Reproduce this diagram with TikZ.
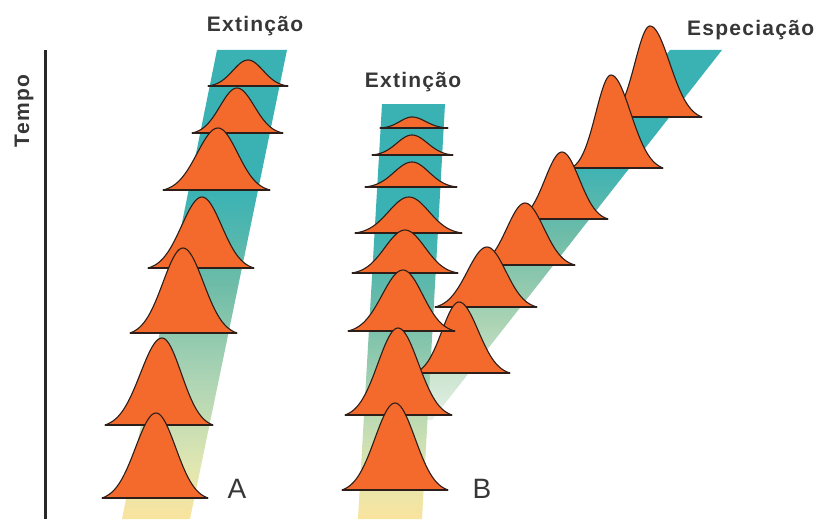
\documentclass[tikz,border=0pt]{standalone}
\usepackage{fontspec}
\setmainfont{Liberation Sans}
\newfontfamily\labelfont[LetterSpace=6]{Liberation Sans}
\usepackage{tikz}

\definecolor{bandteal}{RGB}{58,178,180}
\definecolor{bandmid}{RGB}{110,188,168}
\definecolor{bandgreen}{RGB}{172,212,180}
\definecolor{bandpale}{RGB}{222,230,178}
\definecolor{bandyellow}{RGB}{250,228,158}
\definecolor{bellorange}{RGB}{243,106,44}
\definecolor{bellline}{RGB}{45,30,25}
\definecolor{axisgray}{RGB}{40,40,40}
\definecolor{txtgray}{RGB}{55,55,55}

\pgfdeclareverticalshading{colshade}{100bp}{color(0bp)=(bandyellow); color(25bp)=(bandyellow);
  color(31bp)=(bandpale); color(40bp)=(bandgreen); color(50bp)=(bandmid); color(60bp)=(bandteal);
  color(100bp)=(bandteal)}
\pgfdeclareverticalshading{specshade}{100bp}{color(0bp)=(white!70!bandgreen); color(25bp)=(white!70!bandgreen);
  color(38bp)=(bandgreen); color(50bp)=(bandmid); color(60bp)=(bandteal); color(100bp)=(bandteal)}

\begin{document}
\begin{tikzpicture}[
    x=1pt, y=1pt,
    band/.style={shading=colshade},
    specband/.style={shading=specshade},
    bellbody/.style={fill=bellorange, draw=bellline, line width=1.1pt, line join=round},
    bellbase/.style={draw=bellline, line width=1.8pt},
    title/.style={font=\labelfont\bfseries\fontsize{21}{21}\selectfont, text=txtgray, inner sep=0pt},
    letter/.style={font=\fontsize{28}{28}\selectfont, text=txtgray, inner sep=0pt},
    pics/bell/.style n args={3}{code={
        \path[bellbody] plot[domain=-1:0, samples=30] ({#1*\x},{#3*(exp(-3.5*\x*\x)-0.0302)/0.9698})
            -- plot[domain=0:1, samples=30] ({#2*\x},{#3*(exp(-3.5*\x*\x)-0.0302)/0.9698}) -- cycle;
        \draw[bellbase] (-#1,0) -- (#2,0);
    }}
]
    \fill[white] (0,0) rectangle (829,-519);
    \useasboundingbox (0,0) rectangle (829,-519);

    \shade[specband] (670,-50) -- (722,-50) -- (432,-420) -- (380,-420) -- cycle;
    \shade[band] (217,-50) -- (287,-50) -- (190,-519) -- (122,-519) -- cycle;
    \shade[band] (382,-104) -- (445,-104) -- (422,-519) -- (358,-519) -- cycle;

    \draw[axisgray, line width=3pt] (45,-50) -- (45,-519);
    \node[title, rotate=90] (tempo) at (24,-111) {Tempo};

    \pic at (650,-117) {bell={40}{52}{91}};
    \pic at (611,-168) {bell={40}{52}{93}};
    \pic at (562,-219) {bell={45}{46}{67}};
    \pic at (525,-265) {bell={48}{50}{62}};
    \pic at (487,-307) {bell={52}{50}{60}};
    \pic at (459,-373) {bell={45}{51}{71}};

    \pic at (412,-128) {bell={32}{36}{11}};
    \pic at (412,-155) {bell={40}{41}{20}};
    \pic at (412,-187) {bell={47}{45}{25}};
    \pic at (409,-233) {bell={54}{53}{36}};
    \pic at (405,-273) {bell={53}{53}{43}};
    \pic at (403,-331) {bell={55}{52}{61}};
    \pic at (398,-415) {bell={53}{54}{87}};
    \pic at (395,-490) {bell={53}{53}{87}};

    \pic at (248,-86) {bell={40}{40}{26}};
    \pic at (237,-133) {bell={45}{46}{45}};
    \pic at (218,-190) {bell={55}{52}{62}};
    \pic at (202,-268) {bell={54}{52}{71}};
    \pic at (183,-333) {bell={53}{54}{85}};
    \pic at (162,-425) {bell={57}{51}{87}};
    \pic at (156,-498) {bell={54}{52}{85}};

    \node[title, anchor=base] (extA) at (255,-32) {Extinção};
    \node[title, anchor=base] (extB) at (413,-87) {Extinção};
    \node[title, anchor=base west] (espec) at (687,-36) {Especiação};
    \node[letter] (labA) at (237,-489) {A};
    \node[letter] (labB) at (482,-489) {B};
\end{tikzpicture}
\end{document}
